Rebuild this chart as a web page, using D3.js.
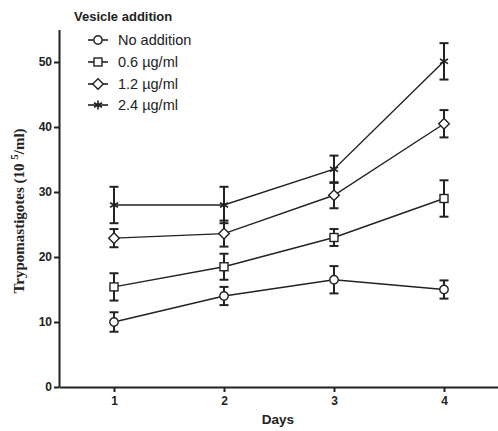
<!DOCTYPE html>
<html>
<head>
<meta charset="utf-8">
<script src="https://cdn.jsdelivr.net/npm/d3@7"></script>
<style>
  body { margin: 0; background: #fff; }
  svg text { font-family: Arial, "Liberation Sans", sans-serif; }
</style>
</head>
<body>
<svg id="chart" width="498" height="431"></svg>
<script>
const days = [1, 2, 3, 4];
const seriesNames = ["No addition", "0.6 \u00b5g/ml", "1.2 \u00b5g/ml", "2.4 \u00b5g/ml"];
const symbols = ["circle", "square", "diamond", "star"];
const noAddition = [10, 14, 16.5, 15];
const noAdditionErr = [1.5, 1.4, 2.1, 1.4];
const dose06 = [15.4, 18.5, 23, 29];
const dose06Err = [2.1, 2, 1.3, 2.8];
const dose12 = [22.9, 23.6, 29.5, 40.5];
const dose12Err = [1.4, 2, 2, 2.1];
const dose24 = [28, 28, 33.5, 50.1];
const dose24Err = [2.8, 2.8, 2.1, 2.8];
const yTicks = [0, 10, 20, 30, 40, 50];

const values = [noAddition, dose06, dose12, dose24];
const errors = [noAdditionErr, dose06Err, dose12Err, dose24Err];

const svg = d3.select("#chart");
const x = d3.scaleLinear().domain([0.5, 4.5]).range([59, 499]);
const y = d3.scaleLinear().domain([0, 55]).range([387, 29.5]);

// axes
const xAxis = svg.append("g")
    .attr("transform", `translate(0,${y(0)})`)
    .call(d3.axisBottom(x).tickValues(days).tickFormat(d3.format("d"))
        .tickSize(5).tickPadding(4).tickSizeOuter(0));
const yAxis = svg.append("g")
    .attr("transform", `translate(${x(0.5)},0)`)
    .call(d3.axisLeft(y).tickValues(yTicks).tickFormat(d3.format("d"))
        .tickSize(5).tickPadding(2).tickSizeOuter(0));
[xAxis, yAxis].forEach((a) => {
    a.select(".domain").attr("stroke", "#222").attr("stroke-width", 2);
    a.selectAll(".tick line").attr("stroke", "#222").attr("stroke-width", 2);
    a.selectAll(".tick text")
        .attr("fill", "#222")
        .style("font-size", "12px")
        .style("font-weight", "bold");
});

svg.append("text")
    .attr("x", 278).attr("y", 424)
    .attr("text-anchor", "middle")
    .style("font-size", "13.5px").style("font-weight", "bold")
    .attr("fill", "#222")
    .text("Days");

const yLabel = svg.append("text")
    .attr("transform", "translate(24,211) rotate(-90)")
    .attr("text-anchor", "middle")
    .style("font-family", "'Liberation Serif', 'Times New Roman', serif")
    .style("font-size", "15px").style("font-weight", "bold")
    .attr("fill", "#222");
yLabel.append("tspan").text("Trypomastigotes (10 ");
yLabel.append("tspan").attr("dy", -6).style("font-size", "11px").text("5");
yLabel.append("tspan").attr("dy", 6).text("/ml)");

// marker drawing
const drawMarker = (g, type) => {
    const st = { fill: "#fff", stroke: "#222", sw: 1.4 };
    if (type === "circle") {
        g.append("circle").attr("r", 4.2)
            .attr("fill", st.fill).attr("stroke", st.stroke).attr("stroke-width", st.sw);
    } else if (type === "square") {
        g.append("rect").attr("x", -4).attr("y", -4).attr("width", 8).attr("height", 8)
            .attr("fill", st.fill).attr("stroke", st.stroke).attr("stroke-width", st.sw);
    } else if (type === "diamond") {
        g.append("path").attr("d", "M0,-5.3L5.3,0L0,5.3L-5.3,0Z")
            .attr("fill", st.fill).attr("stroke", st.stroke).attr("stroke-width", st.sw);
    } else {
        g.append("path")
            .attr("d", "M0,-4.5V4.5M-4,-2.3L4,2.3M-4,2.3L4,-2.3")
            .attr("stroke", st.stroke).attr("stroke-width", 1.6).attr("fill", "none");
    }
};

const line = d3.line().x((d) => x(d.day)).y((d) => y(d.v));

values.forEach((vals, si) => {
    const pts = days.map((d, i) => ({ day: d, v: vals[i], e: errors[si][i] }));
    const g = svg.append("g");
    g.append("path").datum(pts)
        .attr("d", line).attr("fill", "none")
        .attr("stroke", "#222").attr("stroke-width", 1.4);
    const eb = g.selectAll(".err").data(pts).enter().append("g");
    eb.append("line")
        .attr("x1", (d) => x(d.day)).attr("x2", (d) => x(d.day))
        .attr("y1", (d) => y(d.v - d.e)).attr("y2", (d) => y(d.v + d.e))
        .attr("stroke", "#222").attr("stroke-width", 2);
    [-1, 1].forEach((s) => {
        eb.append("line")
            .attr("x1", (d) => x(d.day) - 4.5).attr("x2", (d) => x(d.day) + 4.5)
            .attr("y1", (d) => y(d.v + s * d.e)).attr("y2", (d) => y(d.v + s * d.e))
            .attr("stroke", "#222").attr("stroke-width", 2);
    });
    pts.forEach((d) => {
        const m = g.append("g").attr("transform", `translate(${x(d.day)},${y(d.v)})`);
        drawMarker(m, symbols[si]);
    });
});

// legend
svg.append("text")
    .attr("x", 74).attr("y", 21)
    .style("font-size", "13px").style("font-weight", "bold")
    .attr("fill", "#222")
    .text("Vesicle addition");
const legendY = [40, 62, 84, 105];
seriesNames.forEach((name, i) => {
    const lg = svg.append("g").attr("transform", `translate(98,${legendY[i]})`);
    lg.append("line").attr("x1", -10).attr("x2", 10)
        .attr("stroke", "#222").attr("stroke-width", 1.6);
    drawMarker(lg, symbols[i]);
    lg.append("text").attr("x", 20).attr("y", 5)
        .style("font-size", "14.5px").attr("fill", "#222")
        .text(name);
});
</script>
</body>
</html>
